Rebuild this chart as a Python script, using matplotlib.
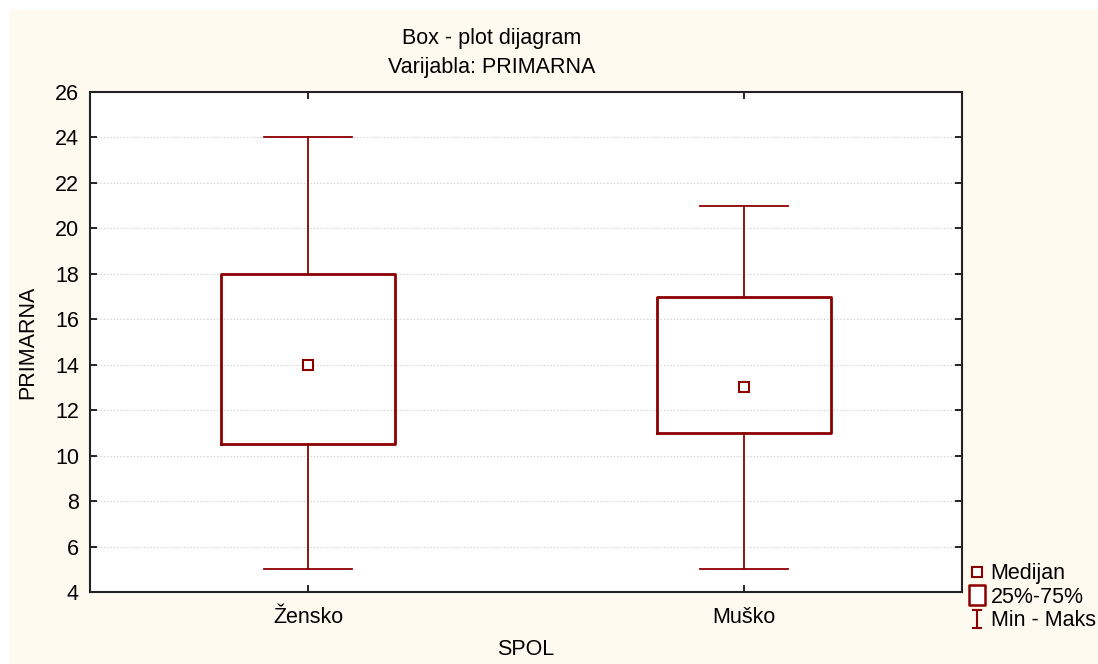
import matplotlib
matplotlib.use("Agg")
import matplotlib.pyplot as plt
from matplotlib.lines import Line2D
from matplotlib.path import Path
from matplotlib.patches import Rectangle

plt.rcParams['font.family'] = ['Liberation Sans', 'DejaVu Sans']

# data
groups = ['Žensko', 'Muško']
q1 = [10.5, 11.0]
q3 = [18.0, 17.0]
medians = [14.0, 13.0]
mins = [5.0, 5.0]
maxs = [24.0, 21.0]
yticks = [4, 6, 8, 10, 12, 14, 16, 18, 20, 22, 24, 26]

red = '#8b0000'
bg = '#fffaf0'
fs = 15.5

fig = plt.figure(figsize=(10.98, 6.64), dpi=100)
fig.patch.set_facecolor('white')
fig.patches.append(Rectangle((9 / 1098, 0), 1, 1 - 10 / 664, transform=fig.transFigure,
                             facecolor=bg, edgecolor='none', zorder=-10))

ax = fig.add_axes([90 / 1098, 1 - 592 / 664, 872 / 1098, 500 / 664])
ax.set_facecolor('white')

stats = []
for i, g in enumerate(groups):
    stats.append({'label': g, 'med': medians[i], 'q1': q1[i], 'q3': q3[i],
                  'whislo': mins[i], 'whishi': maxs[i], 'fliers': []})

pos = list(range(len(groups)))
ax.bxp(stats, positions=pos, widths=0.4, capwidths=0.2, showfliers=False,
       boxprops=dict(color=red, linewidth=2),
       whiskerprops=dict(color=red, linewidth=1.3),
       capprops=dict(color=red, linewidth=1.3),
       medianprops=dict(linestyle='none'))
ax.plot(pos, medians, linestyle='none', marker='s', markersize=7,
        markerfacecolor='white', markeredgecolor=red, markeredgewidth=1.5, zorder=5)

ax.set_xlim(-0.5, 1.5)
ax.set_ylim(4, 26)
ax.set_yticks(yticks)
ax.yaxis.grid(True, linestyle=(0, (1, 2)), color='#c8c8c8', linewidth=0.8)
ax.set_axisbelow(True)
ax.tick_params(direction='in', top=True, right=True, length=5, width=1.2,
               labelsize=fs)
ax.tick_params(axis='x', pad=11)
ax.tick_params(axis='y', pad=8)
for s in ax.spines.values():
    s.set_linewidth(1.5)
    s.set_color('#222222')

ax.set_xlabel('SPOL', fontsize=fs, labelpad=8)
ax.set_ylabel('PRIMARNA', fontsize=fs, labelpad=12)
fig.text(492 / 1098, 1 - 53 / 664, 'Box - plot dijagram\nVarijabla: PRIMARNA',
         fontsize=fs, ha='center', va='center', linespacing=1.55)

# legend
ibeam = Path([(-0.5, 1), (0.5, 1), (0, 1), (0, -1), (-0.5, -1), (0.5, -1)],
             [Path.MOVETO, Path.LINETO, Path.MOVETO, Path.LINETO, Path.MOVETO, Path.LINETO])
tallbox = Path([(-0.4, -0.5), (0.4, -0.5), (0.4, 0.5), (-0.4, 0.5), (-0.4, -0.5)],
               [Path.MOVETO, Path.LINETO, Path.LINETO, Path.LINETO, Path.CLOSEPOLY])
handles = [
    Line2D([], [], linestyle='none', marker='s', markersize=7.5, markerfacecolor='white',
           markeredgecolor=red, markeredgewidth=1.5),
    Line2D([], [], linestyle='none', marker=tallbox, markersize=14, markerfacecolor='white',
           markeredgecolor=red, markeredgewidth=1.8),
    Line2D([], [], linestyle='none', marker=ibeam, markersize=13, markerfacecolor='none',
           markeredgecolor=red, markeredgewidth=1.5),
]
fig.legend(handles, ['Medijan', '25%-75%', 'Min - Maks'], loc='upper left',
           bbox_to_anchor=(954 / 1098, 1 - 548 / 664), frameon=False, fontsize=fs,
           handlelength=0.7, handletextpad=0.3, labelspacing=0.12, borderpad=0.2)

fig.savefig('out.png', dpi=100, facecolor=fig.get_facecolor())
